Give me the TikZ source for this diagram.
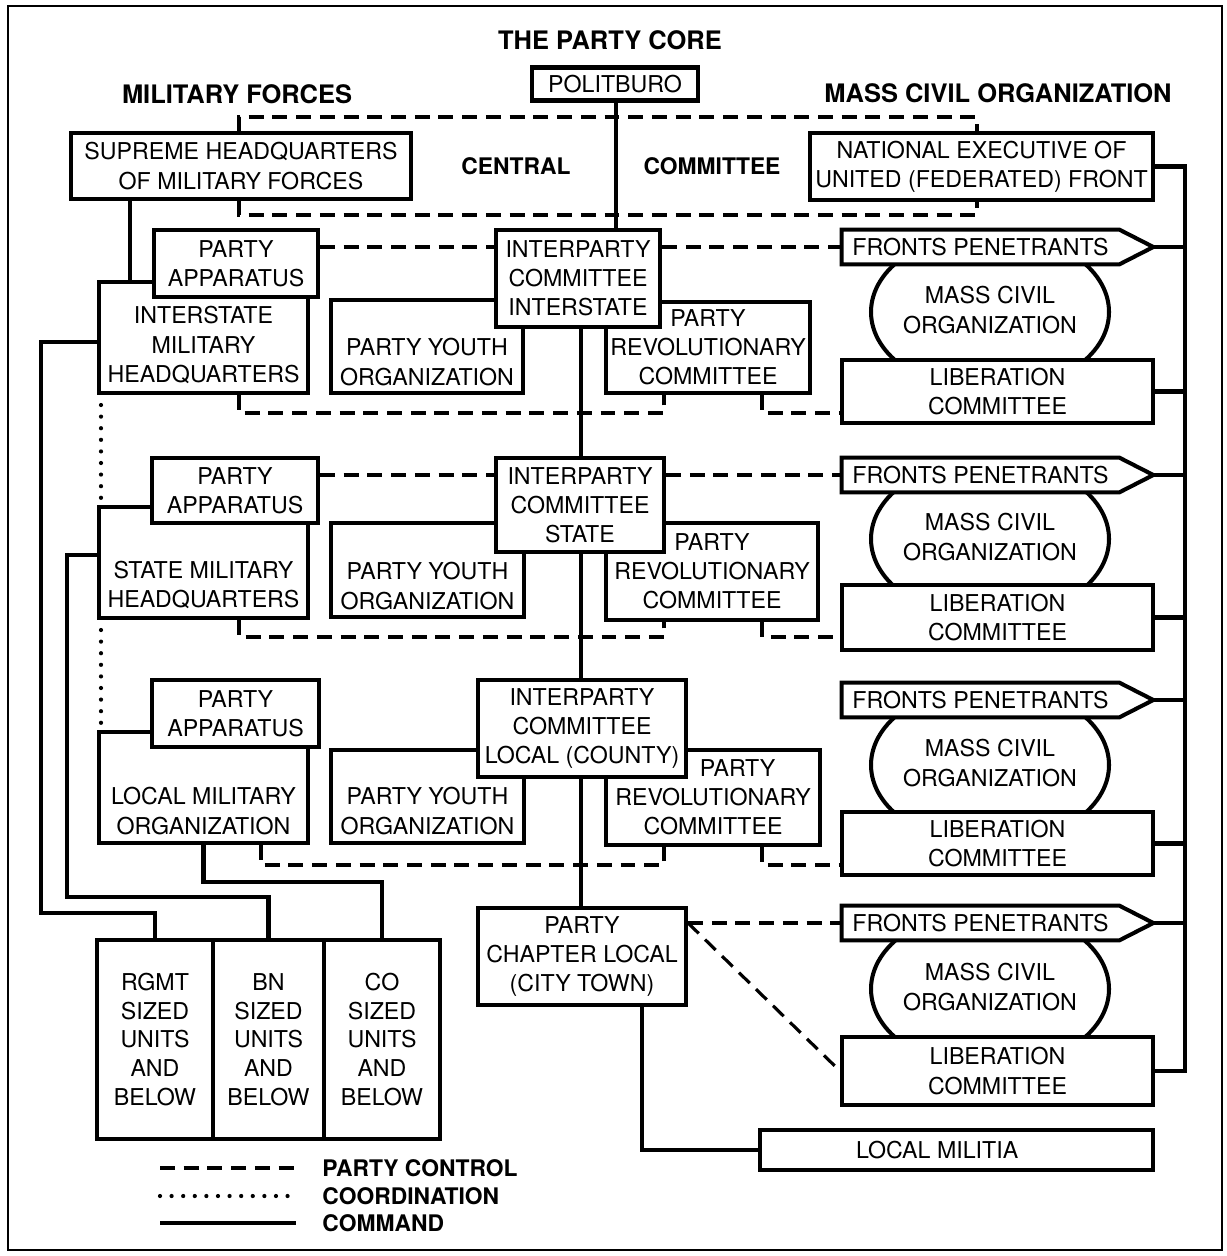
\documentclass[tikz,border=0pt]{standalone}
\usepackage{fontspec}
\setmainfont{TeX Gyre Heros}
\usetikzlibrary{shapes.geometric}
\newcommand{\bxfont}{\fontsize{13.2}{16.6}\selectfont}
\newcommand{\hdfont}{\fontsize{14.5}{17}\selectfont\bfseries}
\newcommand{\lgfont}{\fontsize{13}{16}\selectfont\bfseries}
\begin{document}
\begin{tikzpicture}[x=0.02cm,y=-0.02cm,
  wh/.style 2 args={minimum width=#1*0.02cm, minimum height=#2*0.02cm},
  box/.style={draw, line width=2.3pt, fill=white, inner sep=0pt, align=center, font=\bxfont},
  txt/.style={inner sep=0pt, align=center, font=\bxfont},
  hd/.style={inner sep=0pt, font=\hdfont},
  lg/.style={inner sep=0pt, anchor=west, font=\lgfont},
  cmd/.style={line width=2.3pt},
  ctl/.style={line width=1.8pt, dash pattern=on 8.5pt off 5pt},
  crd/.style={line width=2.4pt, line cap=round, dash pattern=on 0pt off 6.6pt},
  oval/.style={ellipse, draw, line width=2.3pt, inner sep=0pt},
  fpfill/.style={fill=white, inner sep=0pt, align=center, font=\bxfont},
  fpline/.style={line width=2.3pt, line join=miter},
]
\useasboundingbox (0,0) rectangle (1226,1256);
\fill[white] (0,0) rectangle (1226,1256);
\draw[line width=1.1pt] (8,6) rectangle (1222,1250);

% headings
\node[hd] (title) at (610,40) {THE PARTY CORE};
\node[hd] (milf) at (237,94) {MILITARY FORCES};
\node[hd] (mcoh) at (998,93) {MASS CIVIL ORGANIZATION};
\node[hd, font=\fontsize{13}{16}\selectfont\bfseries] (central) at (516,166) {CENTRAL};
\node[hd, font=\fontsize{13}{16}\selectfont\bfseries] (cmte) at (712,166) {COMMITTEE};

% helper coordinates
\coordinate (xa) at (130,0);
\coordinate (xr) at (1185,0);
\coordinate (xc) at (581,0);
\coordinate (xp) at (616,0);
\coordinate (xo1) at (41,0);
\coordinate (xo2) at (67,0);
\coordinate (yo1) at (0,913);
\coordinate (yo2) at (0,897);
\coordinate (yo3) at (0,882);
\coordinate (yw1) at (0,342);
\coordinate (yw2) at (0,555);
\coordinate (xm) at (642,0);
\coordinate (xd) at (239,0);
\coordinate (xe) at (977,0);
\coordinate (yt) at (0,117);
\coordinate (yb) at (0,215);
\coordinate (xf) at (664,0);
\coordinate (xg) at (762,0);
\coordinate (xh) at (261,0);
\coordinate (y1) at (0,413);
\coordinate (y2) at (0,637);
\coordinate (y3) at (0,865);
\coordinate (xdot) at (101,0);

% ---------- boxes ----------
\node[box, wh={166}{33}] (polit) at (615,84) {POLITBURO};
\node[box, wh={340}{66}] (shq) at (241,166) {SUPREME HEADQUARTERS\\OF MILITARY FORCES};
\node[box, wh={343}{67}] (neuf) at (981.5,166.5) {NATIONAL EXECUTIVE OF\\UNITED (FEDERATED) FRONT};

% level 1
\node[box, wh={209}{111}] (imhq) at (203.5,337.5) {};
\node[txt] (imhqt) at (203.5,345) {INTERSTATE\\MILITARY\\HEADQUARTERS};
\node[box, wh={164}{67}] (pa1) at (236,263.5) {PARTY\\APPARATUS};
\node[box, wh={192}{93}] (py1) at (427,346.5) {};
\node[txt] (py1t) at (427,362) {PARTY YOUTH\\ORGANIZATION};
\node[box, wh={204}{91}] (rc1) at (708,347.5) {PARTY\\REVOLUTIONARY\\COMMITTEE};
\node[box, wh={164}{97}] (ic1) at (578,278.5) {INTERPARTY\\COMMITTEE\\INTERSTATE};
\node[oval, wh={238}{160}] (mco1) at (990,312) {};
\node[txt] (mco1t) at (990,310) {MASS CIVIL\\ORGANIZATION};
\node[fpfill, wh={277}{34}] (fp1) at (980.5,247) {FRONTS PENETRANTS};
\coordinate (fp1tip) at ([xshift=0.68cm]fp1.east);
\draw[fpline] (fp1.north west) -- (fp1.north east) -- (fp1tip) -- (fp1.south east) -- (fp1.south west) -- cycle;
\node[box, wh={311}{63}] (lc1) at (997.5,391.5) {LIBERATION\\COMMITTEE};

% level 2
\node[box, wh={209}{111}] (smhq) at (203.5,562.5) {};
\node[txt] (smhqt) at (203.5,585) {STATE MILITARY\\HEADQUARTERS};
\node[box, wh={166}{65}] (pa2) at (235,490.5) {PARTY\\APPARATUS};
\node[box, wh={193}{94}] (py2) at (427.5,570) {};
\node[txt] (py2t) at (427.5,586) {PARTY YOUTH\\ORGANIZATION};
\node[box, wh={212}{97}] (rc2) at (712,571.5) {PARTY\\REVOLUTIONARY\\COMMITTEE};
\node[box, wh={168}{94}] (ic2) at (580,505) {INTERPARTY\\COMMITTEE\\STATE};
\node[oval, wh={238}{160}] (mco2) at (990,539) {};
\node[txt] (mco2t) at (990,537) {MASS CIVIL\\ORGANIZATION};
\node[fpfill, wh={277}{34}] (fp2) at (980.5,475) {FRONTS PENETRANTS};
\coordinate (fp2tip) at ([xshift=0.68cm]fp2.east);
\draw[fpline] (fp2.north west) -- (fp2.north east) -- (fp2tip) -- (fp2.south east) -- (fp2.south west) -- cycle;
\node[box, wh={311}{65}] (lc2) at (997.5,617.5) {LIBERATION\\COMMITTEE};

% level 3
\node[box, wh={209}{111}] (lmo) at (203.5,787.5) {};
\node[txt] (lmot) at (203.5,811) {LOCAL MILITARY\\ORGANIZATION};
\node[box, wh={167}{67}] (pa3) at (235.5,713.5) {PARTY\\APPARATUS};
\node[box, wh={193}{93}] (py3) at (427.5,796.5) {};
\node[txt] (py3t) at (427.5,811) {PARTY YOUTH\\ORGANIZATION};
\node[box, wh={214}{95}] (rc3) at (713,797.5) {\hspace*{28pt}PARTY\\REVOLUTIONARY\\COMMITTEE};
\node[box, wh={208}{97}] (ic3) at (582,728.5) {INTERPARTY\\COMMITTEE\\LOCAL (COUNTY)};
\node[oval, wh={238}{160}] (mco3) at (990,765) {};
\node[txt] (mco3t) at (990,763) {MASS CIVIL\\ORGANIZATION};
\node[fpfill, wh={277}{34}] (fp3) at (980.5,700) {FRONTS PENETRANTS};
\coordinate (fp3tip) at ([xshift=0.68cm]fp3.east);
\draw[fpline] (fp3.north west) -- (fp3.north east) -- (fp3tip) -- (fp3.south east) -- (fp3.south west) -- cycle;
\node[box, wh={311}{63}] (lc3) at (997.5,843.5) {LIBERATION\\COMMITTEE};

% level 4
\node[box, wh={208}{97}] (pcl) at (582,956.5) {PARTY\\CHAPTER LOCAL\\(CITY TOWN)};
\node[oval, wh={238}{160}] (mco4) at (990,989) {};
\node[txt] (mco4t) at (990,987) {MASS CIVIL\\ORGANIZATION};
\node[fpfill, wh={277}{34}] (fp4) at (980.5,923) {FRONTS PENETRANTS};
\coordinate (fp4tip) at ([xshift=0.68cm]fp4.east);
\draw[fpline] (fp4.north west) -- (fp4.north east) -- (fp4tip) -- (fp4.south east) -- (fp4.south west) -- cycle;
\node[box, wh={311}{68}] (lc4) at (997.5,1071) {LIBERATION\\COMMITTEE};
\node[box, wh={393}{40}] (militia) at (956.5,1150) {\hspace*{-22pt}LOCAL MILITIA};

% units
\node[box, wh={116}{199}, font=\fontsize{13.2}{16.3}\selectfont] (rgmt) at (155,1039.5) {RGMT\\SIZED\\UNITS\\AND\\BELOW};
\node[box, wh={111}{199}, font=\fontsize{13.2}{16.3}\selectfont] (bn) at (268.5,1039.5) {BN\\SIZED\\UNITS\\AND\\BELOW};
\node[box, wh={116}{199}, font=\fontsize{13.2}{16.3}\selectfont] (co) at (382,1039.5) {CO\\SIZED\\UNITS\\AND\\BELOW};

% ---------- command lines ----------
\draw[cmd] (polit.south -| xp) -- (ic1.north -| xp);
\draw[cmd] (shq.south -| xa) -- (imhq.north -| xa);
\draw[cmd] (neuf.east) -| (lc4.east -| xr) -- (lc4.east);
\foreach \n in {fp1tip,fp2tip,fp3tip,fp4tip,lc1.east,lc2.east,lc3.east}
  \draw[cmd] (\n) -- (\n -| xr);
\draw[cmd] (ic1.south -| xc) -- (ic2.north -| xc);
\draw[cmd] (ic2.south -| xc) -- (ic3.north -| xc);
\draw[cmd] (ic3.south -| xc) -- (pcl.north -| xc);
\draw[cmd] (imhq.west |- yw1) -- (xo1 |- yw1) -- (xo1 |- yo1) -- (rgmt.north |- yo1) -- (rgmt.north);
\draw[cmd] (smhq.west |- yw2) -- (xo2 |- yw2) -- (xo2 |- yo2) -- (bn.north |- yo2) -- (bn.north);
\draw[cmd] (lmo.south) -- (lmo.south |- yo3) -- (co.north |- yo3) -- (co.north);
\draw[cmd] (pcl.south -| xm) |- (militia.west);

% ---------- party control ----------
\draw[ctl] (shq.north -| xd) -- (xd |- yt) -- (xe |- yt) -- (neuf.north -| xe);
\draw[ctl] (shq.south -| xd) -- (xd |- yb) -- (xe |- yb) -- (neuf.south -| xe);
\draw[ctl] (pa1.east |- fp1.west) -- (ic1.west |- fp1.west);
\draw[ctl] (ic1.east |- fp1.west) -- (fp1.west);
\draw[ctl] (pa2.east |- fp2.west) -- (ic2.west |- fp2.west);
\draw[ctl] (ic2.east |- fp2.west) -- (fp2.west);
\draw[ctl] (imhq.south -| xd) -- (xd |- y1) -- (xf |- y1) -- (rc1.south -| xf);
\draw[ctl] (rc1.south -| xg) -- (xg |- y1) -- (lc1.west |- y1);
\draw[ctl] (smhq.south -| xd) -- (xd |- y2) -- (xf |- y2) -- (rc2.south -| xf);
\draw[ctl] (rc2.south -| xg) -- (xg |- y2) -- (lc2.west |- y2);
\draw[ctl] (lmo.south -| xh) -- (xh |- y3) -- (xf |- y3) -- (rc3.south -| xf);
\draw[ctl] (rc3.south -| xg) -- (xg |- y3) -- (lc3.west |- y3);
\draw[ctl] (pcl.east |- fp4.west) -- (fp4.west);
\draw[ctl] (pcl.east |- fp4.west) -- (lc4.west);

% ---------- coordination ----------
\draw[crd] ([yshift=-0.2cm]imhq.south -| xdot) -- ([yshift=0.1cm]smhq.north -| xdot);
\draw[crd] ([yshift=-0.2cm]smhq.south -| xdot) -- ([yshift=0.1cm]lmo.north -| xdot);

% ---------- legend ----------
\coordinate (lga1) at (160,1168);
\coordinate (lgb1) at (296,1168);
\coordinate (lga2) at (160,1196);
\coordinate (lgb2) at (296,1196);
\coordinate (lga3) at (160,1223);
\coordinate (lgb3) at (296,1223);
\draw[ctl] (lga1) -- (lgb1);
\draw[crd] (lga2) -- (lgb2);
\draw[cmd] (lga3) -- (lgb3);
\node[lg] (lgt1) at (322,1168) {PARTY CONTROL};
\node[lg] (lgt2) at (322,1196) {COORDINATION};
\node[lg] (lgt3) at (322,1223) {COMMAND};
\end{tikzpicture}
\end{document}
